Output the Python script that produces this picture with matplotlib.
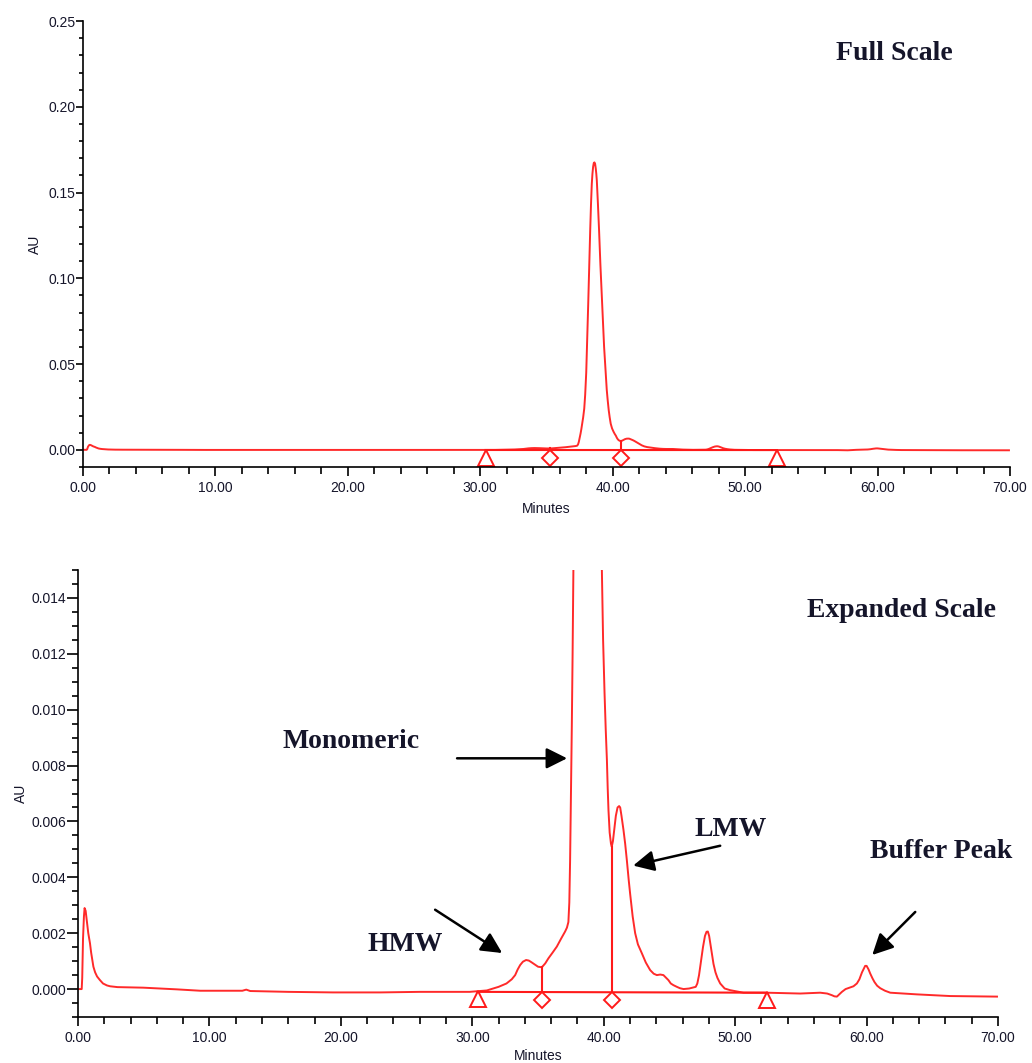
import matplotlib
matplotlib.use("Agg")
import matplotlib.pyplot as plt
from matplotlib import font_manager
from matplotlib.ticker import MultipleLocator, FormatStrFormatter
from matplotlib.transforms import offset_copy

# ---------------- data ----------------
time_min = [0.0, 0.28, 0.32, 0.38, 0.45, 0.5, 0.58, 0.7, 0.78, 0.85, 0.91, 1.0, 1.1,
            1.17, 1.3, 1.45, 1.67, 1.9, 2.2, 2.44, 3.0, 4.97, 7.5, 9.3, 12.5, 12.8,
            13.1, 16.0, 19.4, 23.0, 26.0, 29.8, 31.1, 32.0, 32.6, 33.0, 33.26,
            33.45, 33.64, 33.85, 34.09, 34.3, 34.5, 34.75, 35.0, 35.29, 35.55,
            35.79, 36.1, 36.43, 36.75, 37.06, 37.2, 37.31, 37.38, 37.44, 37.5,
            37.57, 37.63, 37.69, 37.77, 37.85, 37.92, 38.0, 38.07, 38.15, 38.22,
            38.3, 38.36, 38.42, 38.47, 38.52, 38.57, 38.62, 38.67, 38.72, 38.76,
            38.8, 38.88, 38.97, 39.07, 39.18, 39.26, 39.35, 39.45, 39.55, 39.62,
            39.7, 39.77, 39.85, 39.95, 40.06, 40.15, 40.24, 40.3, 40.36, 40.45,
            40.55, 40.61, 40.7, 40.82, 40.92, 41.05, 41.17, 41.25, 41.35, 41.5,
            41.63, 41.76, 41.9, 42.01, 42.2, 42.39, 42.6, 42.9, 43.2, 43.53, 43.8,
            44.04, 44.3, 44.54, 44.75, 44.92, 45.1, 45.3, 45.56, 45.8, 46.07, 46.5,
            47.0, 47.12, 47.25, 47.4, 47.55, 47.7, 47.82, 47.92, 48.02, 48.12,
            48.22, 48.35, 48.5, 48.65, 48.86, 49.2, 49.62, 50.63, 52.4, 54.95,
            56.47, 57.0, 57.36, 57.55, 57.74, 57.9, 58.12, 58.4, 58.75, 59.0,
            59.26, 59.45, 59.65, 59.89, 60.0, 60.15, 60.27, 60.45, 60.6, 60.8,
            61.04, 61.4, 61.8, 63.83, 66.36, 69.92]
absorbance = [0.0, 0.0, 0.0004, 0.0018, 0.0026, 0.0029, 0.0028, 0.0023, 0.0020,
              0.0018, 0.00164, 0.0013, 0.001, 0.0008, 0.0006, 0.00045, 0.00032,
              0.0002, 0.00013, 0.0001, 0.00007, 0.00005, -0.00001, -0.00006,
              -0.00006, -0.00002, -0.00007, -0.0001, -0.00012, -0.00012, -0.0001,
              -0.0001, -0.00005, 0.00008, 0.0002, 0.00035, 0.0005, 0.0007, 0.00086,
              0.00098, 0.00104, 0.00102, 0.00096, 0.00088, 0.0008, 0.00078, 0.00092,
              0.0011, 0.0013, 0.00152, 0.0018, 0.00206, 0.0022, 0.0024, 0.0031,
              0.0046, 0.0068, 0.0094, 0.012, 0.015, 0.019, 0.024, 0.032, 0.045,
              0.063, 0.085, 0.106, 0.128, 0.143, 0.155, 0.161, 0.165, 0.1672,
              0.1676, 0.1668, 0.164, 0.161, 0.157, 0.144, 0.128, 0.108, 0.089,
              0.074, 0.060, 0.047, 0.035, 0.029, 0.023, 0.019, 0.0152, 0.0125,
              0.0106, 0.0093, 0.0082, 0.0072, 0.0064, 0.0056, 0.0052, 0.0051,
              0.0053, 0.0058, 0.0062, 0.0065, 0.00655, 0.0065, 0.0062, 0.0057,
              0.0052, 0.0046, 0.0039, 0.0034, 0.0026, 0.0020, 0.0016, 0.00128,
              0.00095, 0.00068, 0.00055, 0.0005, 0.00052, 0.0005, 0.0004, 0.00032,
              0.0002, 0.00014, 0.00008, 0.00003, 0.0, 0.00002, 0.00008, 0.0002,
              0.0005, 0.001, 0.0015, 0.0019, 0.00205, 0.00206, 0.0019, 0.0016,
              0.0013, 0.0009, 0.0006, 0.0004, 0.0002, 0.00002, -0.00004, -0.00013,
              -0.00013, -0.00016, -0.00013, -0.00016, -0.00022, -0.00026, -0.00027,
              -0.0002, -0.0001, 0.0, 0.00006, 0.0001, 0.0002, 0.00035, 0.0006,
              0.00083, 0.00083, 0.0007, 0.00056, 0.00038, 0.00025, 0.00012,
              0.00003, -0.00006, -0.00013, -0.00019, -0.00025, -0.00027]

# integration events
baseline_start = (30.4, -0.0001)
baseline_end = (52.4, -0.00013)
drop_times = [35.3, 40.65]
drop_tops = [0.00078, 0.0051]

top_title = "Full Scale"
bottom_title = "Expanded Scale"
x_label = "Minutes"
y_label = "AU"

# ---------------- styling ----------------
def has_font(name):
    try:
        font_manager.findfont(font_manager.FontProperties(family=name),
                              fallback_to_default=False)
        return True
    except Exception:
        return False

tick_font = "Liberation Sans Narrow" if has_font("Liberation Sans Narrow") else "Liberation Sans"
tick_size = 11 if tick_font == "Liberation Sans Narrow" else 10
serif = "Liberation Serif"

trace_color = "#ff2a2a"
mark_color = "#ff1a1a"
text_color = "#15152a"

fig = plt.figure(figsize=(10.32, 10.63), dpi=100)
ax_top = fig.add_axes([0.0804, 0.5607, 0.8983, 0.4195])
ax_bot = fig.add_axes([0.0756, 0.04327, 0.8915, 0.4205])


def style_axis(ax, ylim, ymajor, yminor, yfmt, ymaj_len, ymin_len):
    ax.set_xlim(0, 70)
    ax.set_ylim(*ylim)
    for s in ("top", "right"):
        ax.spines[s].set_visible(False)
    for s in ("left", "bottom"):
        ax.spines[s].set_linewidth(1.2)
        ax.spines[s].set_color("black")
    ax.xaxis.set_major_locator(MultipleLocator(10))
    ax.xaxis.set_minor_locator(MultipleLocator(2))
    ax.xaxis.set_major_formatter(FormatStrFormatter("%.2f"))
    ax.yaxis.set_major_locator(MultipleLocator(ymajor))
    ax.yaxis.set_minor_locator(MultipleLocator(yminor))
    ax.yaxis.set_major_formatter(FormatStrFormatter(yfmt))
    ax.tick_params(axis="x", which="major", direction="out", length=6.5, width=1.2,
                   pad=3.5, labelsize=tick_size, labelcolor=text_color)
    ax.tick_params(axis="x", which="minor", direction="out", length=5, width=1.2)
    ax.tick_params(axis="y", which="major", direction="out", length=ymaj_len, width=1.2,
                   pad=0.5, labelsize=tick_size, labelcolor=text_color)
    ax.tick_params(axis="y", which="minor", direction="out", length=ymin_len, width=1.2)
    for lab in ax.get_xticklabels() + ax.get_yticklabels():
        lab.set_family(tick_font)


style_axis(ax_top, (-0.01, 0.25), 0.05, 0.01, "%.2f", 5, 3)
style_axis(ax_bot, (-0.001, 0.015), 0.002, 0.0005, "%.3f", 8, 4)

for ax, xl_y, yl_x in ((ax_top, -0.078, -0.044), (ax_bot, -0.0716, -0.0543)):
    ax.plot(time_min, absorbance, color=trace_color, lw=1.4, solid_joinstyle="round")
    # integration baseline and drop lines
    ax.plot([baseline_start[0], baseline_end[0]], [baseline_start[1], baseline_end[1]],
            color=mark_color, lw=1.5)
    frac = [(t - baseline_start[0]) / (baseline_end[0] - baseline_start[0]) for t in drop_times]
    base_at_drop = [baseline_start[1] + f * (baseline_end[1] - baseline_start[1]) for f in frac]
    for t, b, top in zip(drop_times, base_at_drop, drop_tops):
        ax.plot([t, t], [b, top], color=mark_color, lw=1.5)
    # markers hanging below the baseline
    tri_tr = offset_copy(ax.transData, fig=fig, x=0, y=-5.5, units="points")
    ax.plot([baseline_start[0], baseline_end[0]], [baseline_start[1], baseline_end[1]],
            ls="none", marker="^", ms=11, mec=mark_color, mfc="white", mew=1.4,
            transform=tri_tr, clip_on=False)
    dia_tr = offset_copy(ax.transData, fig=fig, x=0, y=-5.7, units="points")
    ax.plot(drop_times, base_at_drop, ls="none", marker="D", ms=8,
            mec=mark_color, mfc="white", mew=1.4, transform=dia_tr, clip_on=False)
    ax.set_xlabel(x_label, fontsize=tick_size, family=tick_font, color=text_color)
    ax.set_ylabel(y_label, fontsize=tick_size, family=tick_font, color=text_color)
    ax.xaxis.set_label_coords(0.5, xl_y)
    ax.yaxis.set_label_coords(yl_x, 0.5)

# ---------------- annotations ----------------
tkw = dict(family=serif, fontweight="bold", fontsize=20, color=text_color,
           ha="center", va="center")
ax_top.text(61.25, 0.2308, top_title, **tkw)
ax_bot.text(62.63, 0.01354, bottom_title, **tkw)
ax_bot.text(20.78, 0.00887, "Monomeric", **tkw)
ax_bot.text(49.62, 0.00571, "LMW", **tkw)
ax_bot.text(65.68, 0.00492, "Buffer Peak", **tkw)
ax_bot.text(24.89, 0.00158, "HMW", **tkw)

akw = dict(arrowstyle="-|>,head_length=0.7,head_width=0.35", lw=1.8, color="black",
           mutation_scale=18, shrinkA=0, shrinkB=0)
arrows = [((28.84, 0.00826), (37.21, 0.00826)),
          ((48.86, 0.00513), (42.24, 0.00442)),
          ((27.17, 0.00284), (32.27, 0.00129)),
          ((63.70, 0.00276), (60.43, 0.00122))]
for start, tip in arrows:
    ax_bot.annotate("", xy=tip, xytext=start, arrowprops=akw)

fig.savefig("out.png", dpi=100)
